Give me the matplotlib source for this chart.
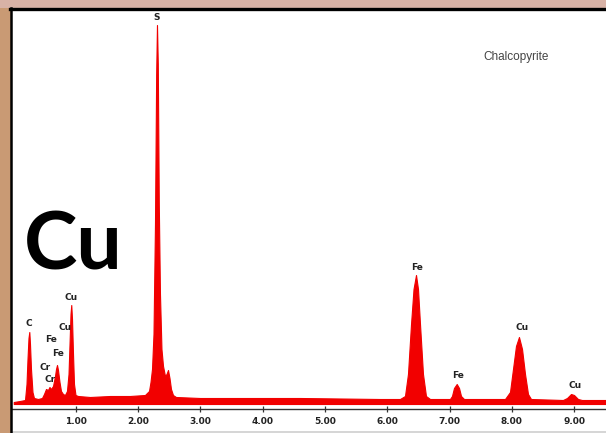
import matplotlib
matplotlib.use("Agg")
import matplotlib.pyplot as plt
from matplotlib.patches import Rectangle
from matplotlib.lines import Line2D

# ---- data (energy in keV, counts in arbitrary units) ----
energy_kev = [0.00, 0.100, 0.181, 0.205, 0.221, 0.237, 0.250, 0.261, 0.277, 0.301,
              0.325, 0.390, 0.454, 0.486, 0.518, 0.550, 0.574, 0.598, 0.631, 0.663,
              0.679, 0.695, 0.711, 0.735, 0.759, 0.791, 0.823, 0.855, 0.880, 0.896,
              0.912, 0.924, 0.936, 0.952, 0.968, 0.992, 1.032, 1.225, 1.546, 1.867,
              2.108, 2.173, 2.197, 2.221, 2.245, 2.269, 2.288, 2.301, 2.314, 2.330,
              2.349, 2.373, 2.398, 2.430, 2.454, 2.478, 2.502, 2.526, 2.558, 2.606,
              2.992, 3.795, 4.598, 5.884, 6.205, 6.285, 6.333, 6.382, 6.422, 6.462,
              6.494, 6.526, 6.574, 6.622, 6.687, 7.008, 7.040, 7.072, 7.116, 7.153,
              7.185, 7.233, 7.892, 7.972, 8.020, 8.068, 8.116, 8.165, 8.213, 8.261,
              8.309, 8.823, 8.888, 8.952, 9.000, 9.064, 9.128, 9.514]
counts = [2, 3, 4, 20, 45, 66, 72, 60, 35, 12,
          6, 5, 6, 10, 15, 14, 17, 15, 18, 28,
          35, 39, 34, 22, 13, 10, 9, 13, 30, 60,
          90, 99, 85, 50, 20, 9, 8, 7, 8, 8,
          9, 13, 22, 35, 70, 180, 330, 379, 340, 200,
          110, 55, 38, 28, 30, 34, 26, 15, 9, 7,
          6, 6, 6, 5, 5, 8, 30, 80, 115, 129,
          115, 80, 30, 8, 5, 5, 8, 16, 20, 16,
          8, 5, 5, 12, 35, 58, 67, 55, 30, 10,
          5, 4, 6, 10, 9, 5, 4, 4]

# peak labels: (text, energy keV, counts position)
peak_labels = ["S", "C", "Fe", "Fe", "Cr", "Cr", "Cu", "Cu", "Fe", "Fe", "Cu", "Cu"]
label_energy = [2.301, 0.250, 0.598, 0.706, 0.507, 0.577, 0.828, 0.925, 6.477, 7.141, 8.160, 9.021]
label_counts = [386, 80, 64, 50, 37, 24, 76, 106, 136, 28, 77, 19]

tick_values = [1, 2, 3, 4, 5, 6, 7, 8, 9]
tick_labels = ["1.00", "2.00", "3.00", "4.00", "5.00", "6.00", "7.00", "8.00", "9.00"]

W, H = 606, 433
fig = plt.figure(figsize=(W / 100, H / 100), dpi=100, facecolor="#C99A74")

def fx(px):
    return px / W

def fy(py):
    return 1 - py / H

# top blurred strip and white panel
fig.patches.append(Rectangle((fx(0), fy(8)), 1, 8 / H, transform=fig.transFigure,
                             facecolor="#D8B2A6", edgecolor="none", zorder=-3))
fig.patches.append(Rectangle((fx(11), fy(431)), fx(606 - 11), (431 - 8) / H,
                             transform=fig.transFigure, facecolor="white",
                             edgecolor="none", zorder=-3))
fig.patches.append(Rectangle((fx(11), fy(433)), fx(606 - 11), 2 / H,
                             transform=fig.transFigure, facecolor="#D6D6D6",
                             edgecolor="none", zorder=-3))
# black frame (top + left)
fig.lines.append(Line2D([fx(10), 1], [fy(8.5), fy(8.5)], transform=fig.transFigure,
                        color="black", linewidth=2.4, zorder=5))
fig.lines.append(Line2D([fx(11), fx(11)], [fy(8), fy(433)], transform=fig.transFigure,
                        color="black", linewidth=1.8, zorder=5))

ax = fig.add_axes([fx(12), fy(409), fx(606 - 12), (409 - 10) / H])
ax.set_zorder(2)
ax.set_facecolor("none")
ax.fill_between(energy_kev, 0, counts, color="#F20000", linewidth=0.8,
                edgecolor="#F20000", zorder=2)
ax.set_xlim(-0.028, 9.514)
ax.set_ylim(-5, 394)

for s in ["top", "right", "left"]:
    ax.spines[s].set_visible(False)
ax.spines["bottom"].set_color("#333333")
ax.spines["bottom"].set_linewidth(1.0)
ax.set_yticks([])
ax.set_xticks(tick_values)
ax.set_xticklabels(tick_labels, fontsize=6.5, fontweight="bold", color="#222222",
                   family="DejaVu Sans")
ax.tick_params(axis="x", direction="inout", length=5, width=0.9, color="#333333", pad=3)

for t, e, c in zip(peak_labels, label_energy, label_counts):
    ax.text(e, c, t, ha="center", va="center", fontsize=6.5, fontweight="bold",
            color="#222222", family="DejaVu Sans", zorder=3)

fig.text(fx(516), fy(57), "Chalcopyrite", ha="center", va="center", fontsize=8.5,
         color="#444444", family="Liberation Sans", zorder=6)
fig.text(fx(73), fy(247), "Cu", ha="center", va="center", fontsize=58,
         fontweight="bold", color="black", family="Lato", zorder=6)

fig.savefig("out.png", dpi=100, facecolor=fig.get_facecolor())
